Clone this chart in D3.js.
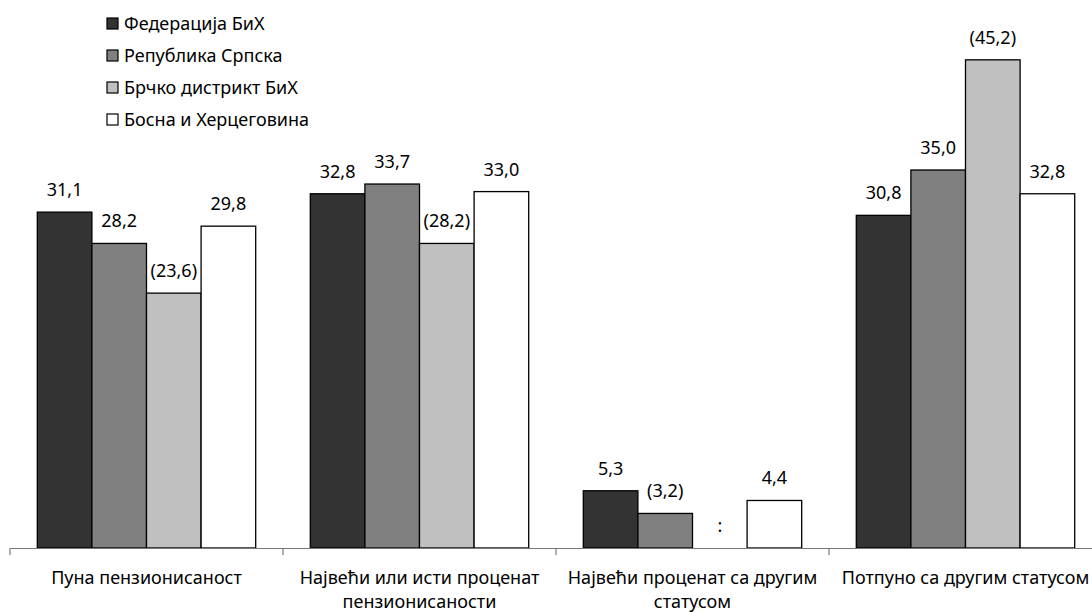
<!DOCTYPE html>
<html><head><meta charset="utf-8">
<script src="https://cdn.jsdelivr.net/npm/d3@7"></script>
<style>body{margin:0;background:#fff}svg{display:block;font-family:"Noto Sans",sans-serif}</style>
</head><body><svg id="c" width="1092" height="612"></svg>
<script>
const categories = ["Пуна пензионисаност", "Највећи или исти проценат пензионисаности", "Највећи проценат са другим статусом", "Потпуно са другим статусом"];
const seriesNames = ["Федерација БиХ", "Република Српска", "Брчко дистрикт БиХ", "Босна и Херцеговина"];
const fbih = [31.1, 32.8, 5.3, 30.8];
const rs = [28.2, 33.7, 3.2, 35.0];
const brcko = [23.6, 28.2, null, 45.2];
const bih = [29.8, 33.0, 4.4, 32.8];
const labelsFbih = ["31,1", "32,8", "5,3", "30,8"];
const labelsRs = ["28,2", "33,7", "(3,2)", "35,0"];
const labelsBrcko = ["(23,6)", "(28,2)", ":", "(45,2)"];
const labelsBih = ["29,8", "33,0", "4,4", "32,8"];
const colors = ["#333333", "#808080", "#c0c0c0", "#ffffff"];

const values = [fbih, rs, brcko, bih];
const labels = [labelsFbih, labelsRs, labelsBrcko, labelsBih];

const svg = d3.select("#c");
const baseY = 548;
const fs = 18;
const x0 = d3.scaleBand().domain(categories).range([10, 1102]).padding(0);
const x1 = d3.scaleBand().domain(d3.range(4)).range([0, x0.bandwidth()]).paddingInner(0).paddingOuter(0.5);
const y = d3.scaleLinear().domain([0, 50]).range([baseY, 8]);

const g = svg.append("g");
categories.forEach((c, ci) => {
  values.forEach((s, si) => {
    const v = s[ci];
    const bx = x0(c) + x1(si);
    const cx = bx + x1.bandwidth() / 2;
    if (v != null) {
      g.append("rect").attr("x", bx).attr("y", y(v)).attr("width", x1.bandwidth()).attr("height", baseY - y(v))
        .attr("fill", colors[si]).attr("stroke", "#000").attr("stroke-width", 1.3);
      g.append("text").attr("x", cx).attr("y", y(v) - 16).attr("text-anchor", "middle")
        .attr("font-size", fs).attr("fill", "#000").text(labels[si][ci]);
    } else {
      g.append("text").attr("x", cx).attr("y", baseY - 16).attr("text-anchor", "middle")
        .attr("font-size", fs).attr("fill", "#000").text(labels[si][ci]);
    }
  });
});

// axis
const axis = d3.axisBottom(x0).tickSize(0).tickFormat("");
const ag = svg.append("g").attr("transform", `translate(0,${baseY})`).call(axis);
ag.select(".domain").attr("stroke", "#777").attr("stroke-width", 1.2);
const tickXs = categories.map(c => x0(c)).concat([x0(categories[3]) + x0.bandwidth()]);
ag.selectAll("line.tk").data(tickXs).enter().append("line").attr("class", "tk")
  .attr("x1", d => d).attr("x2", d => d).attr("y1", 0).attr("y2", 7).attr("stroke", "#777").attr("stroke-width", 1.2);

// category labels with wrapping
function wrapLines(text, width, size) {
  const words = text.split(" ");
  const meas = svg.append("text").attr("font-size", size);
  const lines = []; let line = [];
  words.forEach(w => {
    line.push(w);
    meas.text(line.join(" "));
    if (meas.node().getComputedTextLength() > width && line.length > 1) {
      line.pop(); lines.push(line.join(" ")); line = [w];
    }
  });
  lines.push(line.join(" "));
  meas.remove();
  return lines;
}
categories.forEach(c => {
  const lines = wrapLines(c, 272, fs);
  const t = svg.append("text").attr("text-anchor", "middle").attr("font-size", fs).attr("fill", "#000");
  lines.forEach((l, i) => t.append("tspan").attr("x", x0(c) + x0.bandwidth() / 2).attr("y", 584 + i * 24).text(l));
});

// legend
const lg = svg.append("g");
seriesNames.forEach((n, i) => {
  const yy = 23.5 + i * 32;
  lg.append("rect").attr("x", 107).attr("y", yy - 5.5).attr("width", 11).attr("height", 11)
    .attr("fill", colors[i]).attr("stroke", "#000").attr("stroke-width", 1.2);
  lg.append("text").attr("x", 124).attr("y", yy + 6.5).attr("font-size", 18).attr("fill", "#000").text(n);
});
</script></body></html>
